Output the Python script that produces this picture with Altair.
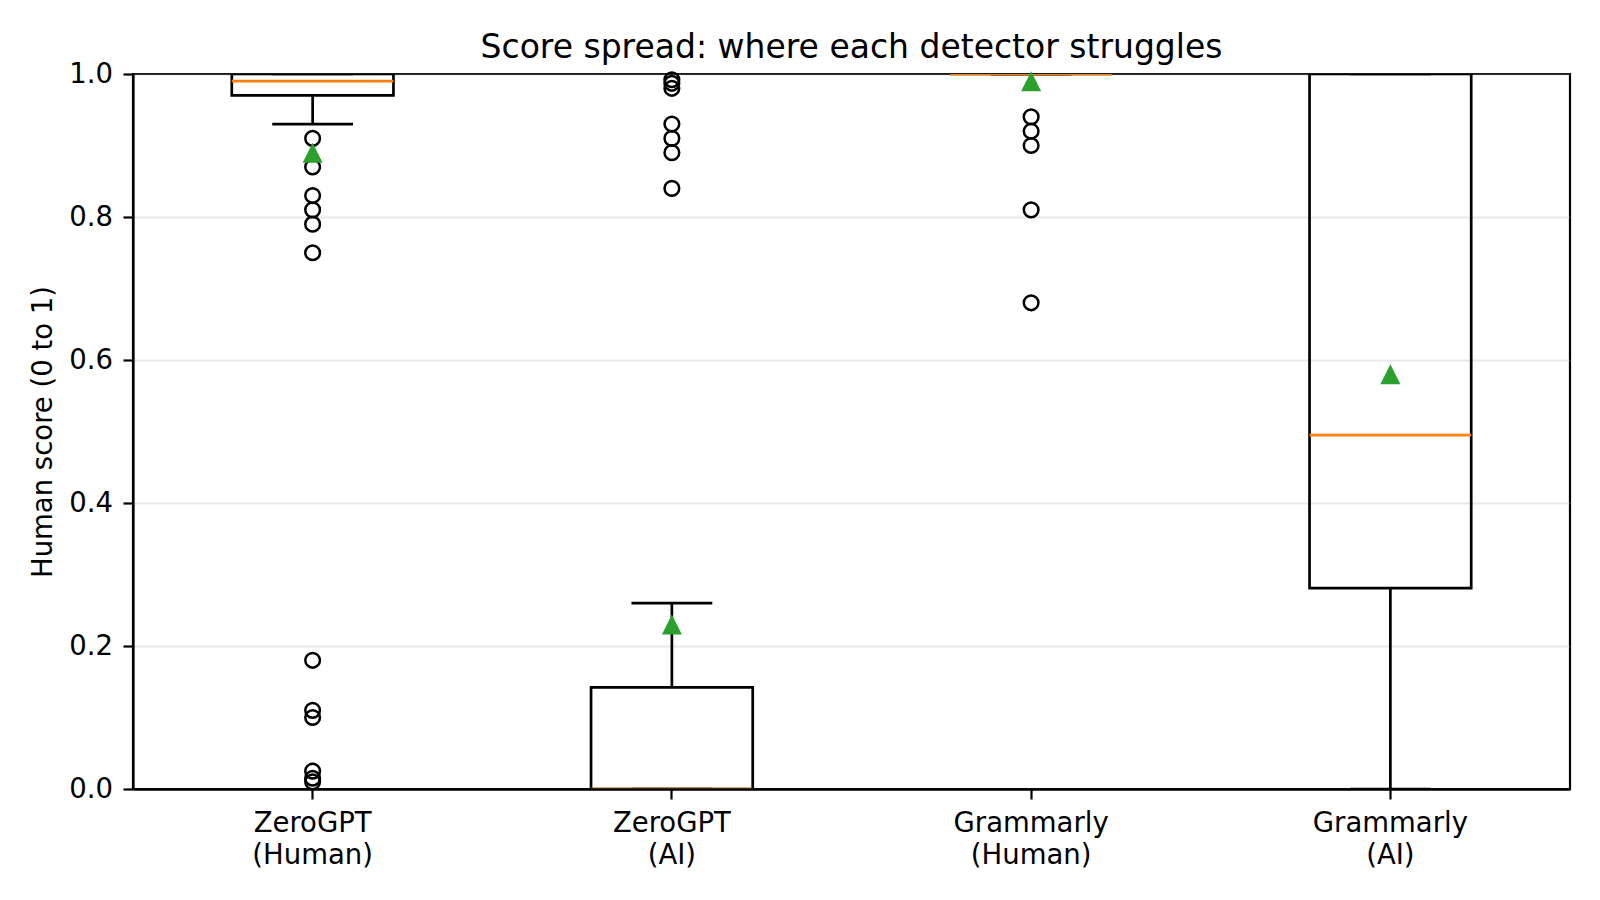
import altair as alt
import pandas as pd

categories = ["ZeroGPT (Human)", "ZeroGPT (AI)", "Grammarly (Human)", "Grammarly (AI)"]
q1 = [0.97, 0.0, 1.0, 0.281]
medians = [0.99, 0.0, 1.0, 0.495]
q3 = [1.0, 0.142, 1.0, 1.0]
whisker_low = [0.93, 0.0, 1.0, 0.0]
whisker_high = [1.0, 0.26, 1.0, 1.0]
means = [0.89, 0.23, 0.99, 0.58]

outliers_zerogpt_human = [0.91, 0.87, 0.83, 0.81, 0.79, 0.75, 0.18, 0.11, 0.10, 0.025, 0.015, 0.01]
outliers_zerogpt_ai = [0.992, 0.987, 0.98, 0.93, 0.91, 0.89, 0.84]
outliers_grammarly_human = [0.94, 0.92, 0.90, 0.81, 0.68]
outliers_grammarly_ai = []

stats = pd.DataFrame({
    "cat": categories, "q1": q1, "med": medians, "q3": q3,
    "wlo": whisker_low, "whi": whisker_high, "mean": means,
})
flier_lists = [outliers_zerogpt_human, outliers_zerogpt_ai, outliers_grammarly_human, outliers_grammarly_ai]
fliers = pd.DataFrame(
    [{"cat": c, "v": v} for c, vals in zip(categories, flier_lists) for v in vals]
)

FONT = "DejaVu Sans"
PLOT_W, PLOT_H = 1437, 715
BOX_FRAC = 0.45
step = PLOT_W / len(categories)
LW = 2.7

x_enc = alt.X(
    "cat:N", sort=categories,
    scale=alt.Scale(paddingInner=0, paddingOuter=0),
    axis=alt.Axis(
        title=None, labelAngle=0, labelExpr="split(datum.label, ' ')",
        labelFont=FONT, labelFontSize=27.5, labelColor="black",
        labelPadding=10.7, labelLineHeight=32, labelBaseline="top",
        tickSize=10, tickWidth=2.2, tickColor="black",
        domainColor="black", domainWidth=2.6, grid=False, zindex=1,
    ),
)

def y_enc(field):
    return alt.Y(
        field, type="quantitative",
        scale=alt.Scale(domain=[0, 1], nice=False),
        axis=alt.Axis(
            title="Human score (0 to 1)", tickCount=5, format=".1f",
            labelFont=FONT, labelFontSize=27.5, labelColor="black",
            labelPadding=10.5, tickSize=10, tickWidth=2.2, tickColor="black",
            domainColor="black", domainWidth=2.2,
            grid=True, gridColor="#b0b0b0", gridOpacity=0.3, gridWidth=2,
            titleFont=FONT, titleFontSize=27.5, titleFontWeight="normal",
            titleColor="black", titleAngle=270, titleX=-81.3, titleY=PLOT_H / 2,
            titleBaseline="alphabetic", titleAlign="center", zindex=0,
        ),
    )

base = alt.Chart(stats)

whisk_hi = base.mark_rule(color="black", strokeWidth=LW, clip=True).encode(
    x=x_enc, y=y_enc("q3"), y2="whi")
whisk_lo = base.mark_rule(color="black", strokeWidth=LW, clip=True).encode(
    x=x_enc, y=y_enc("wlo"), y2="q1")
box = base.mark_bar(
    width=alt.RelativeBandSize(BOX_FRAC), fill="white", fillOpacity=0,
    stroke="black", strokeWidth=LW, clip=True,
).encode(x=x_enc, y=y_enc("q1"), y2="q3")
cap_hi = base.mark_tick(color="black", size=step * BOX_FRAC / 2, thickness=LW,
                        orient="horizontal", opacity=1, clip=True).encode(x=x_enc, y=y_enc("whi"))
cap_lo = base.mark_tick(color="black", size=step * BOX_FRAC / 2, thickness=LW,
                        orient="horizontal", opacity=1, clip=True).encode(x=x_enc, y=y_enc("wlo"))
median = base.mark_tick(color="#ff7f0e", size=step * BOX_FRAC, thickness=LW,
                        orient="horizontal", opacity=1, clip=True).encode(x=x_enc, y=y_enc("med"))
flier_pts = alt.Chart(fliers).mark_point(
    shape="circle", filled=False, stroke="black", strokeWidth=2.5, size=215, opacity=1,
).encode(x=x_enc, y=y_enc("v"))
mean_pts = base.mark_point(
    shape="M0,-1L1,1L-1,1Z", filled=True, fill="#2ca02c", strokeWidth=0, size=400, opacity=1,
).encode(x=x_enc, y=y_enc("mean"))

chart = alt.layer(
    whisk_hi, whisk_lo, box, cap_hi, cap_lo, median, flier_pts, mean_pts
).properties(
    width=PLOT_W, height=PLOT_H,
    background="white",
    autosize=alt.AutoSizeParams(type="none"),
    padding={"left": 125, "top": 66, "right": 22, "bottom": 103},
    title=alt.TitleParams(
        "Score spread: where each detector struggles",
        font=FONT, fontSize=33, fontWeight="normal", color="black",
        anchor="middle", baseline="alphabetic", offset=10, dy=41,
    ),
).configure_view(
    stroke="black", strokeWidth=2.2
)

chart.save("out.html", embed_options={"renderer": "svg", "actions": False})
